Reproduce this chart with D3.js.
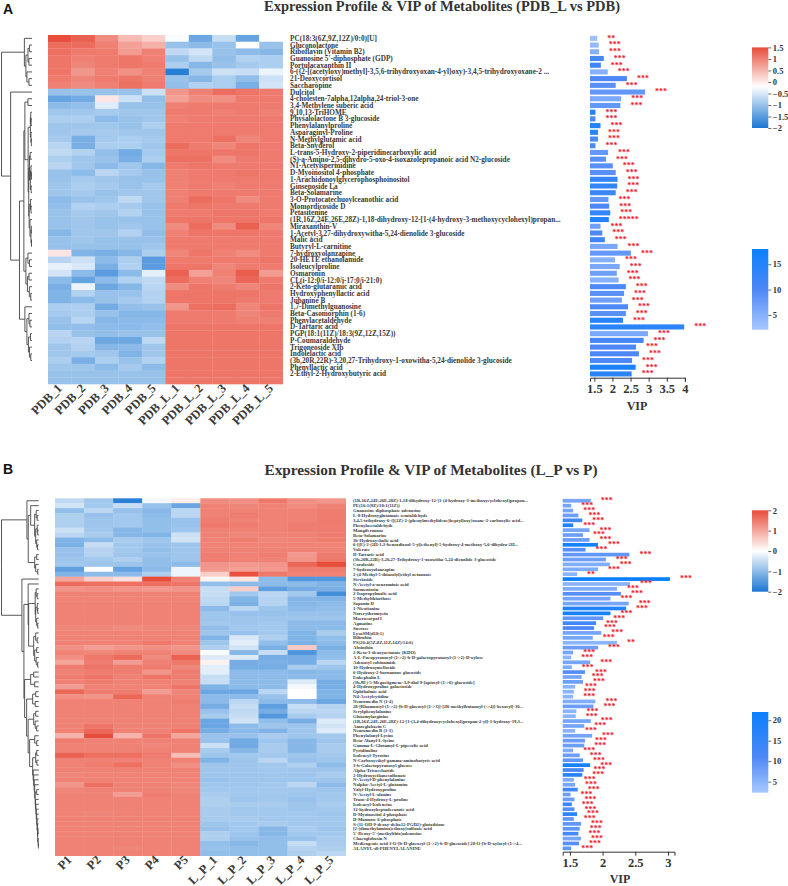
<!DOCTYPE html>
<html>
<head>
<meta charset="utf-8">
<script src="https://cdn.jsdelivr.net/npm/d3@7"></script>
<style>
html, body { margin: 0; padding: 0; background: #fff; }
svg { display: block; }
text { font-family: "Liberation Serif", serif; font-weight: bold; }
</style>
</head>
<body>
<div id="chart"></div>
<script>
// panel A
const titleA = "Expression Profile & VIP of Metabolites (PDB_L vs PDB)";
const samplesA = ["PDB_1", "PDB_2", "PDB_3", "PDB_4", "PDB_5", "PDB_L_1", "PDB_L_2", "PDB_L_3", "PDB_L_4", "PDB_L_5"];
const metabolitesA = [
    "PC(18:3(6Z,9Z,12Z)/0:0)[U]", "Gluconolactone", "Riboflavin (Vitamin B2)", "Guanosine 5'-diphosphate (GDP)",
    "Portulacaxanthin II", "6-({2-[(acetyloxy)methyl]-3,5,6-trihydroxyoxan-4-yl}oxy)-3,4,5-trihydroxyoxane-2 ...",
    "21-Deoxycortisol", "Saccharopine", "Dulcitol", "4-cholesten-7alpha,12alpha,24-triol-3-one",
    "3,4-Methylene suberic acid", "9,10,13-TriHOME", "Physalolactone B 3-glucoside", "Phenylalanylproline",
    "Asparaginyl-Proline", "N-Methylglutamic acid", "Beta-Snyderol", "L-trans-5-Hydroxy-2-piperidinecarboxylic acid",
    "(S)-a-Amino-2,5-dihydro-5-oxo-4-isoxazolepropanoic acid N2-glucoside", "N1-Acetylspermidine",
    "D-Myoinositol 4-phosphate", "1-Arachidonoylglycerophosphoinositol", "Ginsenoside La", "Beta-Solamarine",
    "3-O-Protocatechuoylceanothic acid", "Momordicoside D", "Petasitenine",
    "(1R,16Z,24E,26E,28Z)-1,18-dihydroxy-12-[1-(4-hydroxy-3-methoxycyclohexyl)propan...", "Miraxanthin-V",
    "1-Acetyl-3,27-dihydroxywitha-5,24-dienolide 3-glucoside", "Malic acid", "Butyryl-L-carnitine",
    "7-hydroxyolanzapine", "20-HETE ethanolamide", "Isoleucylproline", "Osmaronin", "CL(i-12:0/i-12:0/i-17:0/i-21:0)",
    "2-Keto-glutaramic acid", "Hydroxyphenyllactic acid", "Jubanine B", "1,7-Dimethylguanosine", "Beta-Casomorphin (1-6)",
    "Phenylacetaldehyde", "D-Tartaric acid", "PGP(18:1(11Z)/18:3(9Z,12Z,15Z))", "P-Coumaraldehyde", "Trigoneoside XIb",
    "Indolelactic acid", "(3b,20R,22R)-3,20,27-Trihydroxy-1-oxowitha-5,24-dienolide 3-glucoside", "Phenyllactic acid",
    "2-Ethyl-2-Hydroxybutyric acid"
];
const vipA = [1.58, 1.62, 1.63, 1.76, 1.68, 1.87, 2.40, 2.09, 2.90, 2.24, 2.22, 1.53, 1.53, 1.67, 1.60, 1.60, 1.53, 1.88, 1.82, 2.01,
    2.09, 2.14, 2.13, 2.09, 1.89, 1.91, 1.94, 1.90, 1.67, 1.72, 1.79, 2.14, 2.51, 2.07, 2.20, 2.12, 2.17, 2.37, 2.32, 2.26,
    2.43, 2.37, 2.29, 3.98, 2.98, 2.86, 2.65, 2.73, 2.54, 2.64, 2.53];
const foldA = [3, 4, 5, 11, 12, 5, 10, 9, 8, 6, 8, 15, 10, 15, 14, 10, 10, 8, 9, 9,
    9, 13, 13, 12, 8, 10, 13, 15, 7, 10, 12, 6, 8, 5, 6, 7, 5, 10, 9, 7,
    10, 9, 15, 14, 6, 11, 10, 10, 10, 16, 14];
const starsA = [2, 3, 3, 3, 3, 3, 3, 3, 3, 3, 3, 3, 3, 3, 3, 3, 3, 3, 3, 3,
    3, 3, 3, 3, 3, 3, 3, 5, 3, 3, 3, 3, 3, 3, 3, 3, 3, 3, 3, 3,
    3, 3, 3, 3, 3, 3, 3, 3, 3, 3, 3];
const heatA = [
    [1.5, 1.3, .9, .45, .25, -.25, -1.35, -.65, -1.4, -.2],
    [1.2, 1.2, 1, .7, .55, -1, -1.1, -1, -.2, -1],
    [1.15, 1.05, 1.05, .75, 1, -.7, -.55, -1, -1.1, -1.15],
    [1.1, 1, 1.05, 1.1, 1, -1, -.7, -1.05, -.8, -.85],
    [1.1, .95, 1.05, 1.1, 1.05, -.85, -1.15, -1, -.9, -.85],
    [1.1, .8, 1, .85, 1, -1.9, -.9, -.6, -.65, -.35],
    [1.05, .95, 1.05, 1.1, 1, -1, -1.15, -.85, -1.05, -.6],
    [1, .9, 1, 1.15, 1.05, -1.05, -.8, -.85, -1.25, -.55],
    [-1, -1, -1, -1, -.6, .8, 1, 1.2, 1.1, 1.05],
    [-1.4, -1.3, .05, -.6, -1.05, .7, .9, .85, 1.05, 1.05],
    [-1.1, -1.05, -.45, -1, -1, 1, 1.05, 1.05, 1.05, 1.05],
    [-.95, -.95, -.9, -.95, -.95, 1.05, 1.05, 1, 1.05, 1],
    [-.85, -.85, -1.1, -1, -.95, 1, 1.05, 1.05, 1.05, 1.05],
    [-.95, -.95, -.95, -1, -.85, 1.05, 1.05, 1.05, 1.05, 1.05],
    [-.95, -.9, -.9, -.95, -.95, 1.05, 1.05, 1.05, 1.05, 1.05],
    [-.9, -1.25, -.9, -.85, -.9, 1.05, 1.05, 1.15, .95, 1.05],
    [-.75, -1.25, -.85, -.85, -.95, 1.2, 1.05, .95, 1.1, 1.05],
    [-.7, -.8, -1.05, -1.3, -.9, 1.1, 1.1, 1.1, 1.1, 1.05],
    [-.85, -.95, -1, -1.25, -.85, 1.15, 1.15, .9, 1.05, 1.05],
    [-.75, -.95, -1.1, -.95, -1.15, 1.05, 1.1, 1.05, 1.05, 1.05],
    [-1, -1.1, -.75, -.9, -1, 1, 1.05, 1.05, 1.1, 1.05],
    [-1, -.9, -.95, -1, -1, 1, 1.05, 1.05, 1.05, 1.05],
    [-.95, -.85, -.9, -1, -.9, 1, 1.05, 1, 1.05, 1.05],
    [-.95, -.9, -1, -.95, -.95, 1, 1.05, 1.05, 1.05, 1.05],
    [-1.1, -1, -.95, -.7, -.95, 1, 1.2, 1.1, .9, 1.05],
    [-1.05, -.8, -.85, -.9, -1, 1.05, 1.1, 1.05, 1.05, 1.05],
    [-1, -.9, -.95, -.8, -1, 1.05, 1.05, 1.1, 1.1, 1.05],
    [-1, -.95, -1, -1, -1, 1.1, 1.1, 1.1, 1.1, 1.1],
    [-1, -.95, -1, -.95, -1, .9, 1.2, .9, 1.3, .95],
    [-1.15, -.95, -.95, -.8, -1.05, 1, 1.1, 1.1, 1.1, 1.05],
    [-1, -.95, -1, -1, -1, 1.05, 1.05, 1.05, 1.05, 1.05],
    [-1, -1, -1, -1, -.95, 1.05, 1.05, 1.05, 1.05, 1.05],
    [.05, -1.2, -1.25, -1.15, -.85, .95, 1.1, 1, .9, 1.05],
    [-.75, -.6, -1.1, -.85, -1.5, 1.05, 1.05, 1.05, 1.05, 1.1],
    [-.4, -.5, -1.25, -.8, -1.5, 1.1, 1.1, .95, 1.05, 1.05],
    [-.55, -1.1, -1.5, -1.1, -.4, 1.3, .7, 1, 1.35, .75],
    [-1.1, -1.4, -1.1, -.8, -.7, 1.2, 1, .95, 1.25, 1.05],
    [-1.25, -.35, -1.35, -1.15, -.75, .9, 1.1, 1.05, .95, 1.1],
    [-1.2, -.8, -1, -1, -.8, 1.1, 1.1, 1.1, 1.1, 1.05],
    [-1.2, -1.1, -1, -.9, -.8, 1.1, 1.1, 1.1, 1.05, 1.05],
    [-.85, -.85, -1.3, -1.05, -1, .8, 1.15, 1.2, .95, 1.1],
    [-.9, -.85, -1, -1.15, -1.15, 1.05, 1.05, 1.05, .95, 1.05],
    [-1, -.75, -1.15, -1.1, -1.1, 1.05, 1.05, 1.05, 1, 1],
    [-1.05, -1.05, -1.1, -1.1, -1.05, 1.1, 1.1, 1.1, 1.1, 1.1],
    [-.75, -1, -1.05, -1, -1, 1.1, 1.1, 1.1, 1.1, 1.1],
    [-.8, -.75, -1.35, -1.35, -.7, 1.1, 1.1, 1.1, 1.1, 1.1],
    [-.95, -.8, -1.15, -1.1, -.95, 1.1, 1.1, 1.1, 1.1, 1.1],
    [-.95, -.9, -.95, -1.2, -.95, 1.1, 1.1, 1.1, 1.1, 1.1],
    [-.85, -1.25, -.85, -1, -.8, 1.1, 1.1, 1.1, 1.1, 1.1],
    [-.95, -.95, -1.1, -.9, -1.1, 1.1, 1.1, 1.1, 1.1, 1.1],
    [-1, -1, -1, -1, -1, 1.1, 1.1, 1.1, 1.1, 1.1],
    [-1, -1, -1, -1, -1, 1.1, 1.1, 1.1, 1.1, 1.1]
];
// dendrogram as [height, left, right], 0 is a leaf
const treeA = [30, [7.5, 0, [6, [4, [2.5, 0, 0], [3, 0, 0]], [5, 0, [3, 0, 0]]]],
    [21, 0, [12.3,
        [8,
            [7, [4, 0, 0], [3.8, [1.6, [1.2, 0, [.9, 0, 0]], [1, 0, [.7, 0, 0]]],
                [3.2, [2.4, [1.8, 0, 0], [1.6, [1, 0, [.6, 0, 0]], [.9, 0, 0]]],
                    [2.8, [1.4, 0, [1, 0, 0]], [2, 0, [1, [.7, 0, 0], [.5, 0, 0]]]]]]],
            [6, [4, 0, [2.5, 0, 0]], [4.5, [3, 0, 0], [2.6, 0, [1.2, 0, 0]]]]],
        [7, 0, [5, [3, 0, [2, 0, 0]], [3.5, [1.5, 0, 0], [2.5, 0, [1.2, 0, 0]]]]]]]];

// panel B
const titleB = "Expression Profile & VIP of Metabolites (L_P vs P)";
const samplesB = ["P1", "P2", "P3", "P4", "P5", "L_P_1", "L_P_2", "L_P_3", "L_P_4", "L_P_5"];
const metabolitesB = [
    "(1R,16Z,24E,26E,28Z)-1,18-dihydroxy-12-[1-(4-hydroxy-3-methoxycyclohexyl)propan...", "PE(16:1(9Z)/18:1(11Z))",
    "Guanosine diphosphate adenosine", "L-8-Hydroxyglutamate semialdehyde",
    "3,4,5-trihydroxy-6-{[(2Z)-2-(phenylmethylidene)heptyl]oxy}oxane-2-carboxylic acid...", "Phenylacetaldehyde",
    "Mangiferonone", "Beta-Solamarine", "3b-Hydroxycholic acid",
    "6-[(E)-2-(2H-1,3-benzodioxol-5-yl)ethenyl]-5-hydroxy-4-methoxy-5,6-dihydro-2H...", "Valerate", "D-Tartaric acid",
    "(3b,20R,22R)-3,20,27-Trihydroxy-1-oxowitha-5,24-dienolide 3-glucoside", "Coroloside", "7-hydroxyolanzapine",
    "2-(4-Methyl-5-thiazolyl)ethyl octanoate", "Stevioside", "N-Acetyl-a-neuraminic acid", "Sarmentosin",
    "2-Isopropylmalic acid", "5-Methylthioribose", "Saponin D", "1-Nicotianine", "Norerythromycin", "Macrocarpal I",
    "Agmatine", "Sucrose", "LysoSM(d18:1)", "Bilirubin", "PS(20:4(5Z,8Z,11Z,14Z)/14:0)", "Absinthin",
    "2-Keto-3-deoxyoctonate (KDO)", "A-L-Fucopyranosyl-(1->2)-b-D-galactopyranosyl-(1->2)-D-xylose", "Adenosyl cobinamide",
    "10-Hydroxymelloside", "6-Hydroxy-2-bornanone glucoside", "Enkephalin L",
    "(3b,9E)-5-Megastigmene-3,9-diol 9-[apiosyl-(1->6)-glucoside]", "4-Hydroxyproline galactoside", "Ophthalmic acid",
    "N4-Acetylcytidine", "Neuromedin N (1-4)",
    "28-[Rhamnosyl-(1->2)-[b-D-glucosyl-(1->3)]-[2R-methylbutanoyl-(->4)]-hexosyl]-30...", "Serylphenylalanine",
    "Glutamylarginine", "(1R,16Z,24E,26E,28Z)-12-[1-(3,4-dihydroxycyclohexyl)propan-2-yl]-1-hydroxy-19,3...",
    "Amoeglabacin C", "Neuromedin B (1-3)", "Phenylalanyl-Lysine", "Beta-Alanyl-L-lysine", "Gamma-L-Glutamyl-L-pipecolic acid",
    "Pyridinoline", "Isoleucyl-Tyrosine", "N-Carboxyethyl-gamma-aminobutyric acid", "3-b-Galactopyranosyl glucose",
    "Alpha-Trisaccharide", "2-Hydroxyethanesulfonate", "N-Acetyl-D-phenylalanine", "Nalpha-Acetyl-L-glutamine",
    "Valyl-Hydroxyproline", "N-Acetyl-L-alanine", "Trans-4-Hydroxy-L-proline", "Isoleucyl-Isoleucine",
    "12-hydroxyheptadecanoic acid", "D-Myoinositol 4-phosphate", "D-Mannose 6-phosphate",
    "S-(11-OH-9-deoxy-delta12-PGD2)-glutathione", "[2-(dimethylamino)ethoxy]sulfonic acid",
    "5'-Deoxy-5'-(methylthio)adenosine", "Chacoglobosin N",
    "Medicagenic acid 3-O-[b-D-glucosyl-(1->2)-b-D-glucoside] 28-O-[b-D-xylosyl-(1->4...", "ALANYL-dl-PHENYLALANINE"
];
const vipB = [1.82, 1.52, 1.55, 1.63, 1.69, 1.55, 1.80, 1.70, 1.80, 1.93, 1.74, 2.41, 2.05, 2.11, 1.93, 1.61, 3.03, 2.42, 2.22, 2.28,
    2.12, 2.40, 2.36, 2.12, 2.01, 1.90, 1.87, 1.98, 1.85, 2.22, 1.93, 1.55, 1.52, 1.81, 1.53, 1.73, 1.68, 1.70, 1.58, 1.56,
    1.55, 1.89, 1.86, 1.60, 1.59, 1.82, 1.72, 1.58, 1.84, 1.73, 1.72, 1.55, 1.65, 1.70, 1.81, 1.71, 1.69, 1.56, 1.58, 1.62,
    1.51, 1.57, 1.53, 1.57, 1.61, 1.56, 1.67, 1.65, 1.63, 1.67, 1.64, 1.52];
const foldB = [7, 7, 7, 8, 13, 19, 7, 8, 8, 20, 10, 9, 8, 6, 6, 5, 22, 5, 6, 10,
    7, 7, 18, 20, 9, 13, 11, 7, 7, 5, 8, 7, 5, 7, 6, 10, 7, 8, 5, 5,
    5, 6, 8, 5, 5, 7, 7, 5, 7, 8, 8, 6, 8, 9, 20, 12, 17, 6, 7, 13,
    8, 8, 14, 10, 17, 9, 9, 9, 12, 7, 10, 9];
const starsB = [3, 3, 3, 3, 3, 3, 3, 3, 3, 3, 3, 3, 3, 3, 3, 2, 3, 3, 3, 3,
    3, 3, 3, 3, 3, 3, 3, 3, 3, 2, 3, 3, 3, 3, 3, 3, 3, 3, 3, 3,
    3, 3, 3, 3, 3, 3, 3, 3, 3, 3, 3, 3, 3, 3, 3, 3, 3, 3, 3, 3,
    3, 3, 3, 3, 3, 3, 3, 3, 3, 3, 3, 3];
const heatB = [
    [-.55, -.8, -1.85, -.1, .2, 1.3, 1.25, 1.5, 1.25, 1.2],
    [-.4, -.8, -.5, -.9, -1.3, 1.4, 1.35, 1.4, 1.3, 1.4],
    [-.95, -.6, -.9, -1.05, -.6, 1.4, 1.4, 1.4, 1.4, 1.45],
    [-.7, -.9, -.8, -1, -.6, 1.4, 1.45, 1.4, 1.4, 1.45],
    [-.7, -.85, -.8, -.95, -.9, 1.45, 1.4, 1.4, 1.4, 1.45],
    [-.7, -.85, -.8, -.95, -.9, 1.5, 1.45, 1.4, 1.45, 1.45],
    [-.45, -.8, -1.05, -.95, -.85, 1.4, 1.4, 1.4, 1.45, 1.45],
    [-.6, -.75, -1.05, -1.1, -.45, 1.4, 1.35, 1.4, 1.4, 1.45],
    [-1.1, -1, -.75, -.85, -.4, 1.4, 1.45, 1.35, 1.4, 1.45],
    [-1.15, -.5, -.8, -.9, -.85, 1.4, 1.4, 1.4, 1.4, 1.4],
    [-.9, -.65, -.8, -.95, -.85, 1.4, 1.4, 1.4, 1.4, 1.4],
    [-.9, -.65, -.85, -.9, -.85, 1.45, 1.4, 1.45, 1.15, 1.45],
    [-.85, -.8, -.7, -.95, -.85, 1.45, 1.4, 1.4, 1.2, 1.5],
    [-.8, -.85, -.85, -.95, -1, 1.2, 1.15, 1.2, 1.7, 2],
    [-1.4, 0, -1.35, -1, -.15, 1.15, 1.05, 1.15, 1.45, 1.45],
    [-1.1, -1, -1, -.7, -.15, .55, 1.95, 1.5, 1.4, 1.4],
    [1, .55, .35, 2, 1.4, .1, .3, -1, -1.5, -1.5],
    [1.65, 1.6, 1.6, 1.6, 1.55, -.95, -1, -1, -1, -1.1],
    [1.2, 1.25, 1.2, 1.15, 1.2, -.5, .55, -1.4, -1.2, -1.15],
    [1.4, 1.4, 1.4, 1.4, 1.4, -.5, -.8, -.6, -.8, -1.65],
    [1.4, 1.4, 1.4, 1.4, 1.4, -.55, -1.1, -.65, -1.05, -1.1],
    [1.4, 1.4, 1.4, 1.4, 1.4, -.6, -1.15, -.65, -1.05, -1],
    [1.4, 1.4, 1.4, 1.4, 1.4, -1, -.6, -.85, -1, -.95],
    [1.4, 1.4, 1.4, 1.4, 1.4, -.85, -.9, -.9, -.9, -.9],
    [1.4, 1.4, 1.4, 1.4, 1.4, -.85, -.85, -.85, -.85, -.85],
    [1.4, 1.4, 1.4, 1.4, 1.4, -.8, -.85, -.8, -1, -1],
    [1.35, 1.35, 1.3, 1.35, 1.35, -.95, -.8, -.8, -1, -1],
    [1.4, 1.4, 1.4, 1.4, 1.4, -.85, -.9, -.8, -1.1, -.75],
    [1.4, 1.4, 1.4, 1.4, 1.4, -1.1, -.35, -.7, -1.1, -.95],
    [1.4, 1.4, 1.4, 1.5, 1.4, -.85, -.25, -.95, -1.15, -1],
    [1.25, 1.1, 1.2, 1.25, 1.2, -.7, -.4, -1.15, .6, -1.15],
    [1.4, 1.35, 1.4, 1.4, 1.3, -.05, -1.05, -.5, -1.55, -1],
    [1.25, 1.5, 1.65, 1.3, 1.75, -.3, -.3, -1.2, -1.2, -.95],
    [1, 1.45, 1.1, 1.4, 1.5, .15, -1.2, -1.15, -1.2, -.6],
    [1.45, 1.55, 1.45, 1.45, 1.35, -.25, -1.2, -1.2, -.75, -.85],
    [1.4, 1.45, 1.45, 1.2, 1.45, -.25, -1, -1, -1.05, -1],
    [1.45, 1.55, 1.4, 1.55, 1.45, -.5, -1, -1, -1, -1],
    [1.4, 1.45, 1.4, 1.4, 1.4, -.5, -1, -1, -.3, -1.2],
    [1.1, 1.4, 1.4, 1.4, 1.55, -1.1, -1, -1, -.1, -1.2],
    [1.7, 1.45, 1.45, 1.1, 1.35, -1.3, -1.3, -.6, 0, -1.1],
    [1.25, 1.2, 1.7, 1.4, 1.4, -1, -1, -.9, 0, -1.1],
    [1.4, 1.4, 1.4, 1.4, 1.45, -1, -.6, -1, -1, -1.3],
    [1.4, 1.4, 1.4, 1.4, 1.4, -1.2, -.5, -1.4, -.5, -.65],
    [1.4, 1.4, 1.4, 1.4, 1.4, -.9, -.55, -1.2, -.6, -.6],
    [1.4, 1.4, 1.4, 1.4, 1.4, -.75, -.5, -1.5, -.75, -.65],
    [1.4, 1.4, 1.4, 1.4, 1.4, -1.3, -.4, -.95, -1.2, -.3],
    [1.4, 1.55, 1.4, 1.4, 1.4, -1.3, -1, -.85, -.85, -.4],
    [1.4, 1.7, 1.4, 1.4, 1.55, -1.2, -1, -1.1, -.85, -.3],
    [.85, 2, .85, 1.55, 1, -.9, -.9, -.75, -.85, -.8],
    [1.45, 1.4, 1.4, 1.4, 1.4, -.9, -1.25, -.85, -1.05, -.85],
    [1.4, 1.4, 1.4, 1.35, 1.4, -.45, -1.25, -.75, -1.05, -.75],
    [1.4, 1.4, 1.4, 1.4, 1.4, -.75, -1.05, -.75, -1.05, -.75],
    [1.75, 1.6, 1.6, 1.45, .75, -.85, -.8, -.8, -.85, -.8],
    [1.4, 1.4, 1.4, 1.4, 1.4, -1.1, -.85, -.6, -.9, -.85],
    [1.4, 1.45, 1.6, 1.4, 1.25, -.85, -.85, -.8, -.7, -1],
    [1.4, 1.4, 1.4, 1.4, 1.4, -.85, -.85, -.8, -.85, -.85],
    [1.35, 1.4, 1.4, 1.4, 1.4, -.85, -.85, -.85, -.85, -.75],
    [1.4, 1.4, 1.4, 1.4, 1.4, -.9, -.85, -.85, -.85, -.85],
    [1.2, 1.6, 1.4, 1.4, 1.35, -.85, -.85, -.8, -.6, -1],
    [1.35, 1.4, 1.4, 1.4, 1.35, -.8, -.8, -.8, -.8, -.85],
    [1.4, 1.4, 1.1, 1.45, 1.4, -.75, -.8, -.8, -.85, -.8],
    [1.4, 1.4, 1.4, 1.4, 1.4, -.7, -.85, -.8, -.9, -.8],
    [1.4, 1.4, 1.4, 1.4, 1.4, -.7, -.75, -.75, -.85, -.75],
    [1.4, 1.4, 1.4, 1.4, 1.4, -.75, -.8, -.8, -.85, -.8],
    [1.4, 1.35, 1.4, 1.4, 1.4, -.75, -.8, -.8, -.8, -.85],
    [1.4, 1.4, 1.4, 1.4, 1.4, -.75, -.75, -.8, -.8, -.8],
    [1.4, 1.4, 1.4, 1.4, 1.4, -.85, -.8, -.75, -.8, -.8],
    [1.4, 1.4, 1.4, 1.4, 1.4, -.9, -.8, -1.05, -.75, -.85],
    [1.4, 1.4, 1.4, 1.4, 1.4, -.7, -.85, -1.05, -.8, -.8],
    [1.4, 1.4, 1.4, 1.4, 1.4, -.7, -.9, -.95, -.9, -.75],
    [1.4, 1.4, 1.4, 1.4, 1.4, -.95, -1.05, -.95, -.5, -.75],
    [1.4, 1.4, 1.35, 1.4, 1.4, -.9, -.95, -.95, -.65, -.7],
    [1.4, 1.4, 1.4, 1.4, 1.4, -.95, -.95, -.95, -.7, -.6]
];
const treeB = [37, [11.7, 0, [10.4, [8, 0, [4, [2.5, 0, [1.5, 0, 0]], [3, [1.5, 0, [1, 0, 0]], [2, 0, [1.2, 0, 0]]]]],
        [4, [2, 0, 0], [3, 0, [1, 0, 0]]]]],
    [16.7, 0, [14.7,
        [10.5, 0, [10,
            [7, [3.5, [2.5, 0, [1.5, 0, 0]], [3, [1.5, 0, [1, 0, 0]], [2, 0, [1, 0, 0]]]]],
            [7, [5, [3, 0, [1.5, 0, 0]], [4, [2, 0, 0], [2.5, 0, [1, 0, 0]]]]]]],
        [14, [8, [5, 0, 0], [4, 0, 0]],
            [12, [6, [3, 0, 0], [3.5, 0, 0]],
                [10.5, [5, [3, 0, 0], [3.5, 0, [2, 0, 0]]],
                    [9, [4, 0, [2, 0, 0]],
                        [6, [3, [2, 0, 0], [1.8, 0, 0]],
                            [5.5, 0, [5, 0, [4.5, 0, [4, 0, [3.5, [2, 0, 0], [3.2, 0, [2.8, 0, [2.4, 0, [2, 0, [1.6, 0, [1.2, 0,
                                [1, [.7, 0, 0], [.5, 0, [.3, 0, 0]]]]]]]]]]]]]]]]]]]]]];

const heatColors = ["#1a76d2", "#ffffff", "#e84c3a"];
const barColors = ["#a6c8ff", "#4d88f6", "#0a80fd"];

const svg = d3.select("#chart").append("svg")
    .attr("width", 788)
    .attr("height", 886);

function drawPanel(cfg) {
    const g = svg.append("g");

    g.append("text")
        .attr("x", cfg.titleX)
        .attr("y", cfg.titleY)
        .attr("text-anchor", "middle")
        .style("font-size", cfg.titleSize)
        .style("fill", "#333")
        .text(cfg.title);

    g.append("text")
        .attr("x", 3)
        .attr("y", cfg.tagY)
        .style("font-family", "'Liberation Sans', sans-serif")
        .style("font-size", "14px")
        .style("fill", "#111")
        .text(cfg.tag);

    const rowIdx = d3.range(cfg.heat.length);
    const x = d3.scaleBand().domain(cfg.samples).range(cfg.heatX);
    const y = d3.scaleBand().domain(rowIdx).range(cfg.heatY);
    const color = d3.scaleLinear().domain(cfg.colorDomain).range(heatColors).clamp(true);

    // heatmap
    cfg.heat.forEach((row, r) => {
        g.selectAll(null)
            .data(row)
            .enter().append("rect")
            .attr("x", (d, i) => x(cfg.samples[i]))
            .attr("y", y(r))
            .attr("width", x.bandwidth() + 0.3)
            .attr("height", y.bandwidth() + 0.3)
            .attr("fill", d => color(d));
    });

    g.selectAll(".sample")
        .data(cfg.samples)
        .enter().append("text")
        .attr("class", "sample")
        .attr("text-anchor", "end")
        .attr("transform", d => `translate(${x(d) + x.bandwidth() / 2 + 3}, ${cfg.heatY[1] + 5}) rotate(-45)`)
        .style("font-size", "12.5px")
        .style("fill", "#3a3a3a")
        .text(d => d);

    // row labels
    g.selectAll(".metabolite")
        .data(cfg.labels)
        .enter().append("text")
        .attr("class", "metabolite")
        .attr("x", cfg.labelX)
        .attr("y", (d, i) => y(i) + y.bandwidth() / 2)
        .attr("dy", "0.35em")
        .style("font-size", cfg.labelSize)
        .style("fill", "#3a3a3a")
        .text(d => d);

    // dendrogram
    const root = d3.hierarchy(cfg.tree, d => Array.isArray(d) ? d.slice(1) : null);
    const dx = d3.scaleLinear().domain([0, root.data[0]]).range(cfg.treeX);
    let leaf = 0;
    root.eachAfter(n => {
        if (n.children) {
            n.py = d3.mean(n.children, c => c.py);
            n.px = dx(n.data[0]);
        } else {
            n.py = y(leaf) + y.bandwidth() / 2;
            n.px = dx(0);
            leaf += 1;
        }
    });
    g.append("g").selectAll("path")
        .data(root.links())
        .enter().append("path")
        .attr("d", l => `M${l.source.px},${l.source.py}V${l.target.py}H${l.target.px}`)
        .attr("fill", "none")
        .attr("stroke", "#444")
        .attr("stroke-width", 0.9);

    // VIP bars
    const vx = d3.scaleLinear().domain(cfg.vipDomain).range(cfg.vipRange);
    const fill = d3.scaleLinear().domain(cfg.foldStops).range(barColors).clamp(true);
    g.selectAll(".bar")
        .data(cfg.vip)
        .enter().append("rect")
        .attr("class", "bar")
        .attr("x", vx(cfg.vipDomain[0]))
        .attr("y", (d, i) => y(i) + y.bandwidth() * 0.12)
        .attr("width", d => vx(d) - vx(cfg.vipDomain[0]))
        .attr("height", y.bandwidth() * 0.76)
        .attr("fill", (d, i) => fill(cfg.fold[i]));

    g.selectAll(".star")
        .data(cfg.vip)
        .enter().append("text")
        .attr("class", "star")
        .attr("x", d => vx(d) + 10)
        .attr("y", (d, i) => y(i) + y.bandwidth() / 2 + 2.4)
        .style("font-size", "8px")
        .style("fill", "#e8142a")
        .text((d, i) => "*".repeat(cfg.stars[i]));

    const axis = g.append("g")
        .attr("transform", `translate(0, ${cfg.axisY})`)
        .call(d3.axisBottom(vx).tickValues(cfg.vipTicks).tickFormat(d3.format("~g")).tickSize(4));
    axis.selectAll("path, line").attr("stroke", "#333");
    axis.selectAll("text")
        .attr("dy", null)
        .attr("y", 15)
        .style("font-size", "12.5px")
        .style("font-family", "'Liberation Serif', serif")
        .style("fill", "#333");

    g.append("text")
        .attr("x", cfg.vipLabelX)
        .attr("y", cfg.vipLabelY)
        .attr("text-anchor", "middle")
        .style("font-size", "12px")
        .style("fill", "#333")
        .text("VIP");

    // colour legends
    drawLegend(g, cfg.legend1Y, cfg.legend1Domain, t => color(t), cfg.legend1Ticks, cfg.tag + "1");
    drawLegend(g, cfg.legend2Y, cfg.legend2Domain, t => fill(t), cfg.legend2Ticks, cfg.tag + "2");
}

function drawLegend(g, yRange, domain, colorOf, ticks, id) {
    const ly = d3.scaleLinear().domain(domain).range(yRange);
    const grad = svg.append("defs").append("linearGradient")
        .attr("id", "grad" + id)
        .attr("x1", 0).attr("x2", 0).attr("y1", 1).attr("y2", 0);
    d3.range(0, 1.001, 0.02).forEach(t => {
        grad.append("stop")
            .attr("offset", t)
            .attr("stop-color", colorOf(domain[0] + t * (domain[1] - domain[0])));
    });
    g.append("rect")
        .attr("x", 752)
        .attr("y", yRange[1])
        .attr("width", 16.3)
        .attr("height", yRange[0] - yRange[1])
        .attr("fill", `url(#grad${id})`);
    const a = g.append("g")
        .attr("transform", "translate(768.3, 0)")
        .call(d3.axisRight(ly).tickValues(ticks).tickFormat(d3.format("~g")).tickSize(3));
    a.select(".domain").remove();
    a.selectAll("line").attr("stroke", "#666");
    a.selectAll("text")
        .attr("x", 4.5)
        .style("font-size", "8.5px")
        .style("font-family", "'Liberation Serif', serif")
        .style("fill", "#333");
}

drawPanel({
    tag: "A", tagY: 14, title: titleA, titleX: 442, titleY: 11, titleSize: "14.5px",
    samples: samplesA, labels: metabolitesA, heat: heatA, tree: treeA, vip: vipA, fold: foldA, stars: starsA,
    heatX: [48, 282.7], heatY: [35, 384], treeX: [32, 1.5],
    colorDomain: [-2, -0.2, 1.5], labelX: 290, labelSize: "7.25px",
    vipDomain: [1.38, 4], vipRange: [590, 684.9], vipTicks: [1.5, 2, 2.5, 3, 3.5, 4], axisY: 377.7, vipLabelX: 637, vipLabelY: 410,
    foldStops: [2.1, 10, 18],
    legend1Y: [128, 47.4], legend1Domain: [-2, 1.5], legend1Ticks: [-2, -1.5, -1, -0.5, 0, 0.5, 1, 1.5],
    legend2Y: [329.7, 249], legend2Domain: [2.1, 18], legend2Ticks: [5, 10, 15]
});

drawPanel({
    tag: "B", tagY: 474, title: titleB, titleX: 431, titleY: 475, titleSize: "15.3px",
    samples: samplesB, labels: metabolitesB, heat: heatB, tree: treeB, vip: vipB, fold: foldB, stars: starsB,
    heatX: [55, 345.7], heatY: [498.3, 855.7], treeX: [38.7, 1.5],
    colorDomain: [-2, 0, 2], labelX: 353, labelSize: "4.7px",
    vipDomain: [1.39, 3.1], vipRange: [562.7, 674.5], vipTicks: [1.5, 2, 2.5, 3], axisY: 851.7, vipLabelX: 620, vipLabelY: 883,
    foldStops: [2.3, 11, 22],
    legend1Y: [591.7, 510.3], legend1Domain: [-2, 2], legend1Ticks: [-2, -1, 0, 1, 2],
    legend2Y: [792.7, 712], legend2Domain: [2.3, 22], legend2Ticks: [5, 10, 15, 20]
});
</script>
</body>
</html>
